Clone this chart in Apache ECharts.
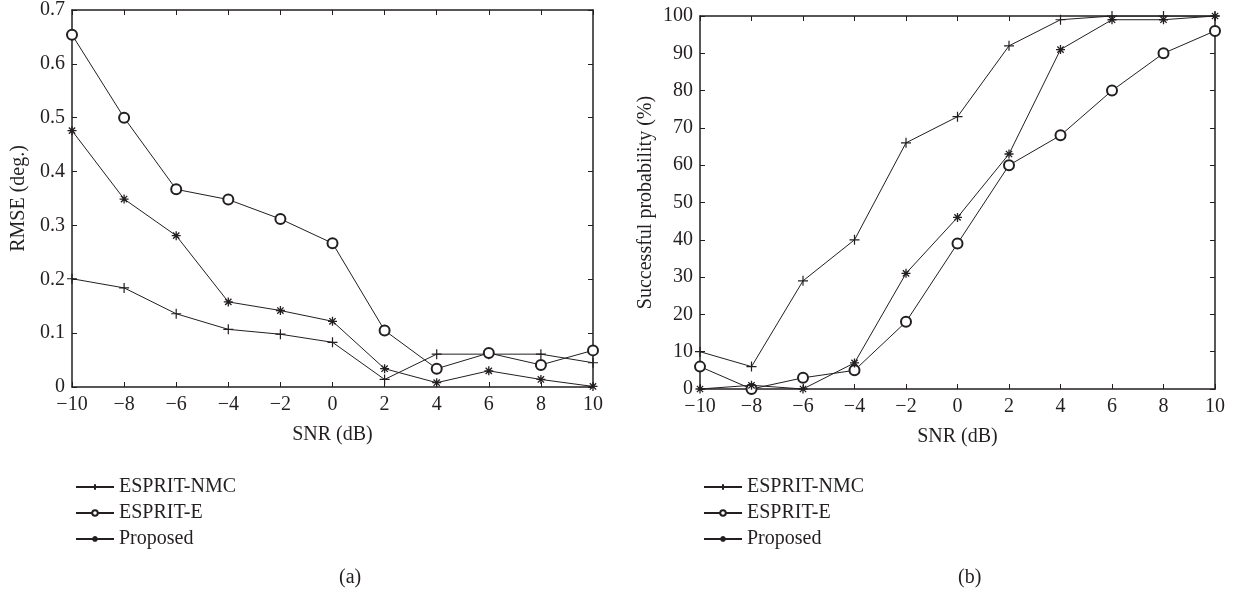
<!DOCTYPE html>
<html lang="en">
<head>
    <meta charset="UTF-8">
    <title>RMSE / Successful probability vs SNR</title>
    <script src="https://cdn.jsdelivr.net/npm/echarts@6/dist/echarts.min.js"></script>
    <style>
        html, body {
            margin: 0;
            padding: 0;
            background: #fff;
        }

        #chart {
            width: 1237px;
            height: 595px;
        }
    </style>
</head>
<body>
<div id="chart"></div>
<script>
    // SNR (dB)
    var snr = [-10, -8, -6, -4, -2, 0, 2, 4, 6, 8, 10];

    // (a) RMSE (deg.)
    var rmseNmc = [0.201, 0.184, 0.136, 0.107, 0.098, 0.083, 0.014, 0.061, 0.061, 0.061, 0.045];
    var rmseE = [0.654, 0.500, 0.367, 0.348, 0.312, 0.267, 0.105, 0.034, 0.063, 0.041, 0.068];
    var rmseProposed = [0.476, 0.349, 0.281, 0.158, 0.142, 0.122, 0.034, 0.008, 0.030, 0.014, 0.001];

    // (b) Successful probability (%)
    var probNmc = [10, 6, 29, 40, 66, 73, 92, 99, 100, 100, 100];
    var probE = [6, 0, 3, 5, 18, 39, 60, 68, 80, 90, 96];
    var probProposed = [0, 1, 0, 7, 31, 46, 63, 91, 99, 99, 100];

    var seriesNames = ['ESPRIT-NMC', 'ESPRIT-E', 'Proposed'];

    var ink = '#231f20';
    var serif = '"Liberation Serif", "DejaVu Serif", serif';
    var fs = 20;

    var plusPath = 'path://M5,0L5,10M0,5L10,5';
    var starPath = 'path://M5,0L5,10M0,5L10,5M1.5,1.5L8.5,8.5M8.5,1.5L1.5,8.5';

    function pairs(ys) {
        var out = [];
        for (var i = 0; i < snr.length; ++i) {
            out.push([snr[i], ys[i]]);
        }
        return out;
    }

    function minusSign(v) {
        return String(v).replace('-', '\u2212');
    }

    function makeSeries(name, ys, gridIdx) {
        var symbol, size, itemStyle;
        if (name === 'ESPRIT-NMC') {
            symbol = plusPath; size = 10;
            itemStyle = {color: 'none', borderColor: ink, borderWidth: 1.2};
        } else if (name === 'ESPRIT-E') {
            symbol = 'emptyCircle'; size = 10;
            itemStyle = {color: ink, borderWidth: 0.9};
        } else {
            symbol = starPath; size = 9;
            itemStyle = {color: 'none', borderColor: ink, borderWidth: 1.3};
        }
        return {
            name: name,
            type: 'line',
            xAxisIndex: gridIdx * 2,
            yAxisIndex: gridIdx * 2,
            data: pairs(ys),
            symbol: symbol,
            symbolSize: size,
            showAllSymbol: true,
            lineStyle: {color: ink, width: 1},
            itemStyle: itemStyle,
            emphasis: {disabled: true},
            animation: false,
            z: 3
        };
    }

    var labelStyle = {color: ink, fontFamily: serif, fontSize: fs};

    function xAxes(gridIdx) {
        return [{
            type: 'value', gridIndex: gridIdx, min: -10, max: 10, interval: 2,
            name: 'SNR (dB)', nameLocation: 'middle', nameGap: 38,
            nameTextStyle: labelStyle,
            axisLine: {show: true, onZero: false, lineStyle: {color: ink, width: 1.5}},
            axisTick: {inside: true, length: 5, lineStyle: {color: ink}},
            axisLabel: {color: ink, fontFamily: serif, fontSize: fs, margin: 8, formatter: minusSign},
            splitLine: {show: false}
        }, {
            type: 'value', gridIndex: gridIdx, position: 'top', min: -10, max: 10, interval: 2,
            axisLine: {show: true, onZero: false, lineStyle: {color: ink, width: 1.5}},
            axisTick: {inside: true, length: 5, lineStyle: {color: ink}},
            axisLabel: {show: false},
            splitLine: {show: false}
        }];
    }

    function yAxes(gridIdx, name, max, interval, gap) {
        return [{
            type: 'value', gridIndex: gridIdx, min: 0, max: max, interval: interval,
            name: name, nameLocation: 'middle', nameGap: gap,
            nameTextStyle: labelStyle,
            axisLine: {show: true, onZero: false, lineStyle: {color: ink, width: 1.5}},
            axisTick: {inside: true, length: 5, lineStyle: {color: ink}},
            axisLabel: {color: ink, fontFamily: serif, fontSize: fs, margin: 7},
            splitLine: {show: false}
        }, {
            type: 'value', gridIndex: gridIdx, position: 'right', min: 0, max: max, interval: interval,
            axisLine: {show: true, onZero: false, lineStyle: {color: ink, width: 1.5}},
            axisTick: {inside: true, length: 5, lineStyle: {color: ink}},
            axisLabel: {show: false},
            splitLine: {show: false}
        }];
    }

    var legendBase = {
        orient: 'vertical',
        top: 472,
        itemWidth: 38,
        itemHeight: 7,
        itemGap: 6,
        selectedMode: false,
        textStyle: {color: ink, fontFamily: serif, fontSize: fs},
        data: seriesNames
    };

    var chart = echarts.init(document.getElementById('chart'));
    chart.setOption({
        backgroundColor: '#fff',
        animation: false,
        grid: [
            {left: 72, right: 644, top: 10, bottom: 208},
            {left: 700, right: 22, top: 16, bottom: 206}
        ],
        xAxis: xAxes(0).concat(xAxes(1)),
        yAxis: yAxes(0, 'RMSE (deg.)', 0.7, 0.1, 43).concat(yAxes(1, 'Successful probability (%)', 100, 10, 44)),
        legend: [
            echarts.util.extend({left: 70}, legendBase),
            echarts.util.extend({left: 698}, legendBase)
        ],
        graphic: [
            {type: 'text', left: 339, top: 568, style: {text: '(a)', font: fs + 'px ' + serif, fill: ink}},
            {type: 'text', left: 958, top: 568, style: {text: '(b)', font: fs + 'px ' + serif, fill: ink}}
        ],
        series: [
            makeSeries('ESPRIT-NMC', rmseNmc, 0),
            makeSeries('ESPRIT-E', rmseE, 0),
            makeSeries('Proposed', rmseProposed, 0),
            makeSeries('ESPRIT-NMC', probNmc, 1),
            makeSeries('ESPRIT-E', probE, 1),
            makeSeries('Proposed', probProposed, 1)
        ]
    });
</script>
</body>
</html>
